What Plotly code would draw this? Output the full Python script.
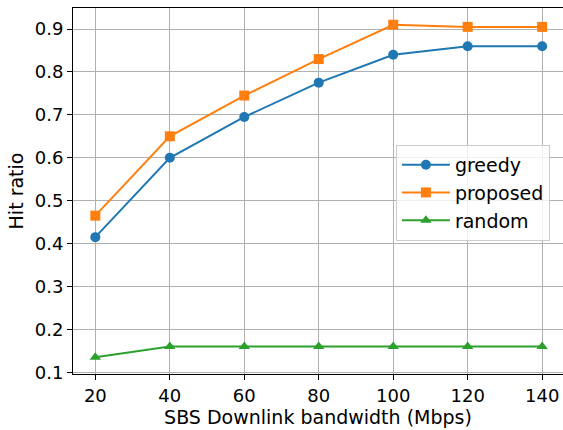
import plotly.graph_objects as go

bandwidth = [20, 40, 60, 80, 100, 120, 140]
greedy = [0.415, 0.60, 0.695, 0.775, 0.84, 0.86, 0.86]
proposed = [0.465, 0.65, 0.745, 0.83, 0.91, 0.905, 0.905]
random_ = [0.135, 0.16, 0.16, 0.16, 0.16, 0.16, 0.16]
y_ticks = [0.1, 0.2, 0.3, 0.4, 0.5, 0.6, 0.7, 0.8, 0.9]

fig = go.Figure()
series = [
    ("greedy", greedy, "#1f77b4", "circle"),
    ("proposed", proposed, "#ff7f0e", "square"),
    ("random", random_, "#2ca02c", "triangle-up"),
]
for name, vals, col, sym in series:
    fig.add_trace(go.Scatter(
        x=bandwidth, y=vals, name=name, mode="lines+markers",
        line=dict(color=col, width=2),
        marker=dict(color=col, symbol=sym, size=10),
    ))

axis_common = dict(
    showgrid=True, gridcolor="#b0b0b0", gridwidth=1,
    showline=True, linecolor="black", linewidth=1, mirror=True,
    ticks="outside", ticklen=5, tickcolor="black",
    tickfont=dict(size=18, color="black"), zeroline=False,
)
fig.update_layout(
    width=563, height=430,
    margin=dict(l=73, r=0, t=8, b=56),
    paper_bgcolor="white", plot_bgcolor="white",
    font=dict(family="DejaVu Sans", color="black"),
    showlegend=True,
    legend=dict(
        x=0.659, y=0.626, xanchor="left", yanchor="top",
        bgcolor="rgba(255,255,255,0.8)", bordercolor="#cccccc", borderwidth=1,
        font=dict(size=19), itemwidth=48,
    ),
    xaxis=dict(range=[14, 145.6], tickvals=bandwidth,
               title=dict(text="SBS Downlink bandwidth (Mbps)", font=dict(size=19), standoff=4),
               **axis_common),
    yaxis=dict(range=[0.096, 0.949], tickvals=y_ticks, tickformat=".1f",
               title=dict(text="Hit ratio", font=dict(size=19), standoff=6),
               **axis_common),
)
fig.write_html("out.html")
